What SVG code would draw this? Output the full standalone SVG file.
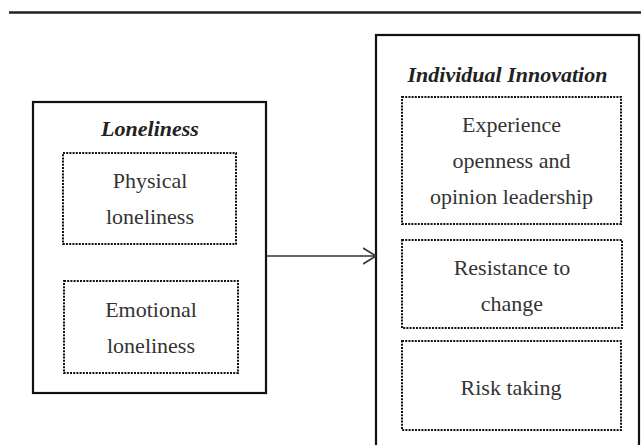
<svg xmlns="http://www.w3.org/2000/svg" width="641" height="445" viewBox="0 0 641 445">
<defs>
<style>
.outer{fill:#fff;stroke:#111;stroke-width:2.2}
.inner{fill:none;stroke:#111;stroke-width:2;stroke-dasharray:2 1.2}
.title{font-family:"Liberation Serif","Times New Roman",serif;font-size:22px;font-weight:bold;font-style:italic;fill:#222;text-anchor:middle}
.lbl{font-family:"Liberation Serif","Times New Roman",serif;font-size:22px;fill:#333;text-anchor:middle}
.conn{stroke:#333;stroke-width:1.6;fill:none}
</style>
<marker id="arr" markerWidth="16" markerHeight="20" refX="13" refY="9" orient="auto" markerUnits="userSpaceOnUse">
<path d="M0,1 L13,9 L0,17" fill="none" stroke="#333" stroke-width="1.6"/>
</marker>
</defs>
<rect width="641" height="445" fill="#fff"/>
<line x1="9" y1="12.5" x2="641" y2="12.5" stroke="#222" stroke-width="2.5"/>
<g id="loneliness">
<rect class="outer" x="33" y="102" width="233" height="291"/>
<text class="title" x="150" y="136">Loneliness</text>
</g>
<g id="physical">
<rect class="inner" x="63" y="153" width="173" height="91"/>
<text class="lbl" x="150" y="188">Physical</text>
<text class="lbl" x="150" y="224">loneliness</text>
</g>
<g id="emotional">
<rect class="inner" x="64" y="281" width="174" height="92"/>
<text class="lbl" x="151" y="317">Emotional</text>
<text class="lbl" x="151" y="353">loneliness</text>
</g>
<g id="innovation">
<rect class="outer" x="376" y="35" width="263" height="430"/>
<text class="title" x="507.5" y="82">Individual Innovation</text>
</g>
<g id="experience">
<rect class="inner" x="402" y="97" width="219" height="127"/>
<text class="lbl" x="511.5" y="132">Experience</text>
<text class="lbl" x="511.5" y="168">openness and</text>
<text class="lbl" x="511.5" y="204">opinion leadership</text>
</g>
<g id="resistance">
<rect class="inner" x="402" y="240" width="220" height="88"/>
<text class="lbl" x="512" y="275">Resistance to</text>
<text class="lbl" x="512" y="311">change</text>
</g>
<g id="risk">
<rect class="inner" x="402" y="341" width="219" height="89"/>
<text class="lbl" x="511" y="395">Risk taking</text>
</g>
<g id="connectors">
<line class="conn" x1="267" y1="256" x2="376" y2="256" marker-end="url(#arr)"/>
</g>
</svg>
